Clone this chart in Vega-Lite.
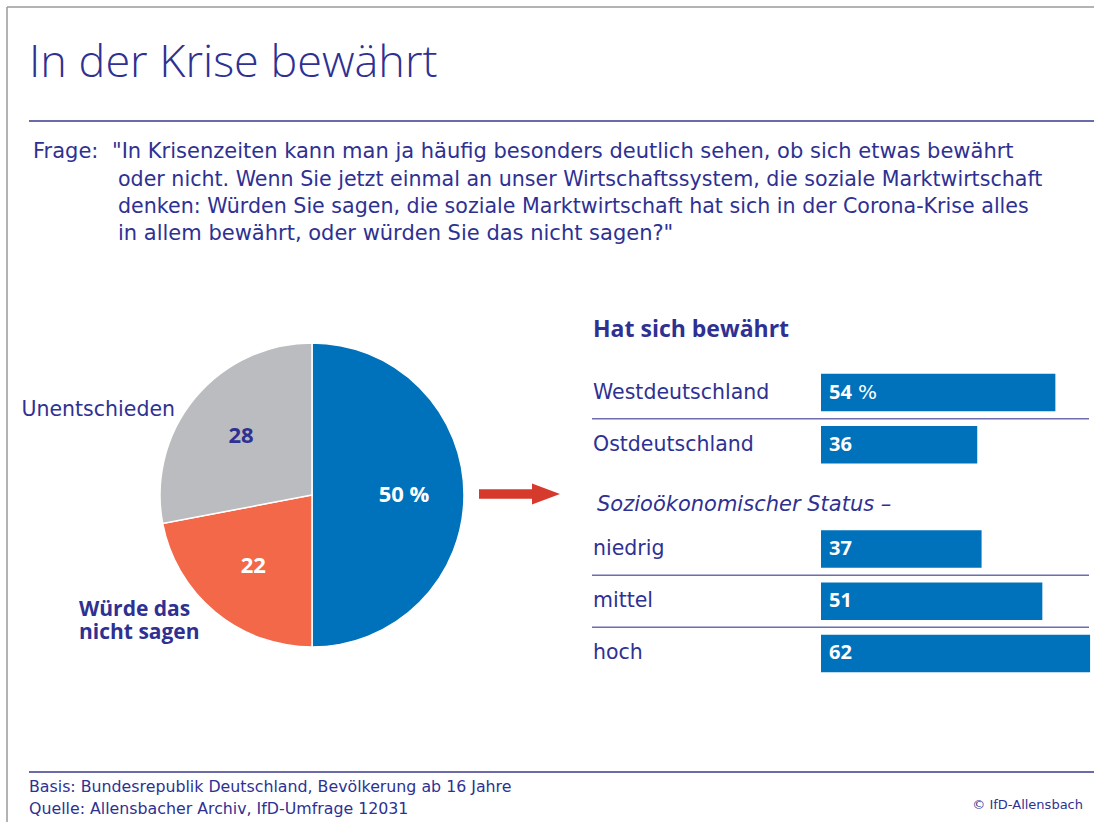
{
  "$schema": "https://vega.github.io/schema/vega-lite/v6.json",
  "width": 1094,
  "height": 822,
  "autosize": {"type": "fit", "contains": "padding"},
  "padding": 0,
  "background": "white",
  "config": {"view": {"stroke": null}, "font": "DejaVu Sans", "text": {"font": "DejaVu Sans"}},
  "datasets": {
    "gesamt": [
      {"antwort": "Hat sich bewährt", "wert": 50, "reihenfolge": 1, "beschriftung": "50 %"},
      {"antwort": "Würde das nicht sagen", "wert": 22, "reihenfolge": 2, "beschriftung": "22"},
      {"antwort": "Unentschieden", "wert": 28, "reihenfolge": 3, "beschriftung": "28"}
    ],
    "gruppen": [
      {"kategorie": "Westdeutschland", "wert": 54},
      {"kategorie": "Ostdeutschland", "wert": 36},
      {"kategorie": "niedrig", "wert": 37},
      {"kategorie": "mittel", "wert": 51},
      {"kategorie": "hoch", "wert": 62}
    ],
    "trenner": [
      {"kategorie": "Ostdeutschland"},
      {"kategorie": "mittel"},
      {"kategorie": "hoch"}
    ],
    "eins": [{}]
  },
  "resolve": {"scale": {"x": "independent", "y": "independent", "color": "independent", "theta": "independent"}},
  "layer": [
    {"data": {"name": "eins"}, "mark": {"type": "rule", "color": "#9a9a9a", "strokeWidth": 1.5},
      "encoding": {"x": {"value": 7}, "x2": {"value": 1094}, "y": {"value": 7}, "y2": {"value": 7}}},
    {"data": {"name": "eins"}, "mark": {"type": "rule", "color": "#9a9a9a", "strokeWidth": 1.5},
      "encoding": {"x": {"value": 7}, "x2": {"value": 7}, "y": {"value": 7}, "y2": {"value": 822}}},
    {"data": {"name": "eins"}, "mark": {"type": "rule", "color": "#3a3a8c", "strokeWidth": 1.5},
      "encoding": {"x": {"value": 29}, "x2": {"value": 1094}, "y": {"value": 121}, "y2": {"value": 121}}},
    {"data": {"name": "eins"}, "mark": {"type": "rule", "color": "#3a3a8c", "strokeWidth": 1.5},
      "encoding": {"x": {"value": 29}, "x2": {"value": 1094}, "y": {"value": 772}, "y2": {"value": 772}}},
    {"data": {"name": "eins"}, "mark": {"type": "text", "text": "In der Krise bewährt", "x": 29, "y": 77, "align": "left", "baseline": "alphabetic", "font": "Open Sans", "fontSize": 45, "fontWeight": 300, "color": "#2e3192"}},
    {"data": {"name": "eins"}, "mark": {"type": "text", "text": "Frage:", "x": 33, "y": 152, "align": "left", "baseline": "middle", "fontSize": 21, "color": "#2e3192"}},
    {"data": {"name": "eins"}, "mark": {"type": "text", "text": "\"In Krisenzeiten kann man ja häufig besonders deutlich sehen, ob sich etwas bewährt", "x": 112, "y": 152, "align": "left", "baseline": "middle", "fontSize": 21, "color": "#2e3192"}},
    {"data": {"name": "eins"}, "mark": {"type": "text", "text": "oder nicht. Wenn Sie jetzt einmal an unser Wirtschaftssystem, die soziale Marktwirtschaft", "x": 118, "y": 180, "align": "left", "baseline": "middle", "fontSize": 20.6, "color": "#2e3192"}},
    {"data": {"name": "eins"}, "mark": {"type": "text", "text": "denken: Würden Sie sagen, die soziale Marktwirtschaft hat sich in der Corona-Krise alles", "x": 118, "y": 207, "align": "left", "baseline": "middle", "fontSize": 20.6, "color": "#2e3192"}},
    {"data": {"name": "eins"}, "mark": {"type": "text", "text": "in allem bewährt, oder würden Sie das nicht sagen?\"", "x": 118, "y": 234, "align": "left", "baseline": "middle", "fontSize": 21, "color": "#2e3192"}},
    {
      "data": {"name": "gesamt"},
      "encoding": {
        "theta": {"field": "wert", "type": "quantitative", "stack": true},
        "order": {"field": "reihenfolge", "type": "quantitative"}
      },
      "layer": [
        {
          "mark": {"type": "arc", "outerRadius": 152, "x": 312, "y": 495, "stroke": "white", "strokeWidth": 1.5},
          "encoding": {
            "color": {"field": "antwort", "type": "nominal", "legend": null,
              "scale": {"domain": ["Hat sich bewährt", "Würde das nicht sagen", "Unentschieden"], "range": ["#0071bb", "#f26849", "#bbbcbf"]}}
          }
        },
        {
          "mark": {"type": "text", "radius": 92, "x": 312, "y": 495, "font": "Open Sans", "fontSize": 22, "fontWeight": "bold"},
          "encoding": {
            "text": {"field": "beschriftung"},
            "detail": {"field": "antwort"},
            "color": {"condition": {"test": "datum.antwort === 'Unentschieden'", "value": "#2e3192"}, "value": "white"}
          }
        }
      ]
    },
    {"data": {"name": "eins"}, "mark": {"type": "text", "text": "Unentschieden", "x": 175, "y": 410, "align": "right", "baseline": "middle", "fontSize": 20.5, "color": "#2e3192"}},
    {"data": {"name": "eins"}, "mark": {"type": "text", "text": "Würde das", "x": 79, "y": 610, "align": "left", "baseline": "middle", "font": "Open Sans", "fontSize": 21, "fontWeight": "bold", "color": "#2e3192"}},
    {"data": {"name": "eins"}, "mark": {"type": "text", "text": "nicht sagen", "x": 79, "y": 633, "align": "left", "baseline": "middle", "font": "Open Sans", "fontSize": 21, "fontWeight": "bold", "color": "#2e3192"}},
    {"data": {"name": "eins"}, "mark": {"type": "rule", "color": "#d63a2c", "strokeWidth": 9.5},
      "encoding": {"x": {"value": 479}, "x2": {"value": 534}, "y": {"value": 494}, "y2": {"value": 494}}},
    {"data": {"name": "eins"}, "mark": {"type": "point", "shape": "M -1 -0.75 L 1 0 L -1 0.75 Z", "filled": true, "opacity": 1, "size": 784, "x": 546, "y": 494, "color": "#d63a2c", "strokeWidth": 0}, "encoding": {}},
    {"data": {"name": "eins"}, "mark": {"type": "text", "text": "Hat sich bewährt", "x": 593, "y": 330, "align": "left", "baseline": "middle", "font": "Open Sans", "fontSize": 23, "fontWeight": "bold", "color": "#2e3192"}},
    {"data": {"name": "eins"}, "mark": {"type": "text", "text": "Sozioökonomischer Status –", "x": 597, "y": 505, "align": "left", "baseline": "middle", "fontSize": 21, "fontStyle": "italic", "color": "#2e3192"}},
    {
      "data": {"name": "trenner"},
      "mark": {"type": "rule", "x": 592, "x2": 1089, "color": "#6d6db0", "strokeWidth": 1.5},
      "encoding": {
        "y": {"field": "kategorie", "type": "nominal", "axis": null, "bandPosition": 0,
          "scale": {"type": "band", "domain": ["Westdeutschland", "Ostdeutschland", "Sozioökonomischer Status", "niedrig", "mittel", "hoch"], "range": [366.5, 679.5], "paddingInner": 0, "paddingOuter": 0}}
      }
    },
    {
      "data": {"name": "gruppen"},
      "encoding": {
        "y": {"field": "kategorie", "type": "nominal", "axis": null,
          "scale": {"type": "band", "domain": ["Westdeutschland", "Ostdeutschland", "Sozioökonomischer Status", "niedrig", "mittel", "hoch"], "range": [366.5, 679.5], "paddingInner": 0.28, "paddingOuter": 0.14}}
      },
      "layer": [
        {
          "mark": {"type": "bar", "color": "#0071bb"},
          "encoding": {"x": {"field": "wert", "type": "quantitative", "axis": null, "scale": {"domain": [0, 100], "range": [821, 1255]}}}
        },
        {
          "mark": {"type": "text", "x": 829, "align": "left", "baseline": "middle", "color": "white", "font": "Open Sans", "fontWeight": "bold", "fontSize": 20},
          "encoding": {"text": {"field": "wert"}}
        },
        {
          "mark": {"type": "text", "x": 593, "align": "left", "baseline": "middle", "color": "#2e3192", "fontSize": 20.5},
          "encoding": {"text": {"field": "kategorie"}}
        }
      ]
    },
    {"data": {"name": "eins"}, "mark": {"type": "text", "text": "%", "x": 858, "y": 393, "align": "left", "baseline": "middle", "fontSize": 20, "color": "white"}},
    {"data": {"name": "eins"}, "mark": {"type": "text", "text": "Basis: Bundesrepublik Deutschland, Bevölkerung ab 16 Jahre", "x": 29, "y": 787, "align": "left", "baseline": "middle", "fontSize": 15.8, "color": "#2e3192"}},
    {"data": {"name": "eins"}, "mark": {"type": "text", "text": "Quelle: Allensbacher Archiv, IfD-Umfrage 12031", "x": 29, "y": 809, "align": "left", "baseline": "middle", "fontSize": 15.8, "color": "#2e3192"}},
    {"data": {"name": "eins"}, "mark": {"type": "text", "text": "© IfD-Allensbach", "x": 1083, "y": 805, "align": "right", "baseline": "middle", "fontSize": 13, "color": "#2e3192"}}
  ]
}
